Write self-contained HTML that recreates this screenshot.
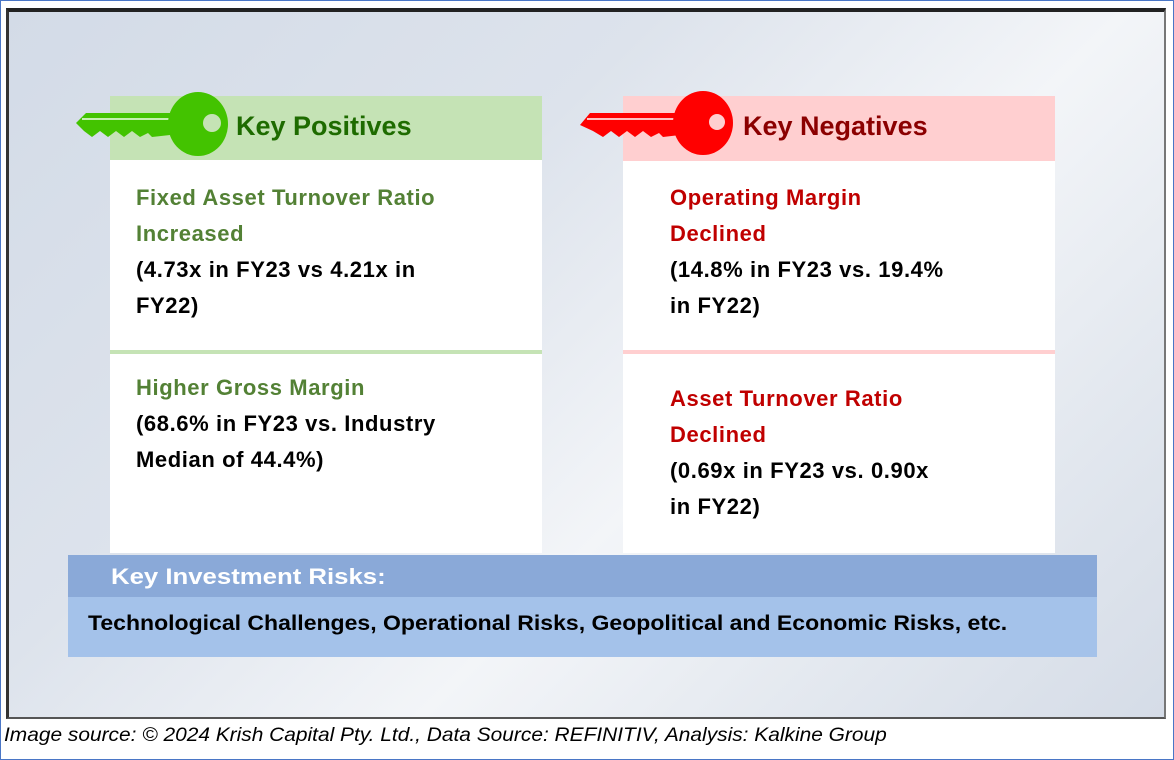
<!DOCTYPE html>
<html><head><meta charset="utf-8"><style>
body{margin:0;width:1174px;height:760px;background:#fff;position:relative;overflow:hidden;font-family:"Liberation Sans",sans-serif}
.abs{position:absolute}
.outer{left:0;top:0;width:1172px;height:758px;border:1px solid #4a76c6}
.frame{left:6px;top:8px;width:1155px;height:705px;border-top:4px solid #222;border-left:3px solid #333;border-right:2px solid #777;border-bottom:2px solid #555;background:linear-gradient(135deg,#d3dbe7 0%,#dde3ec 35%,#f3f5f8 60%,#e3e8ef 80%,#d5dce7 100%)}
.panel{background:#fff}
.hdr{font-weight:bold;font-size:27px}
.txt{font-weight:bold;font-size:22px;line-height:36px;letter-spacing:0.6px;white-space:nowrap}
.g{color:#538135}.r{color:#c00000}
</style></head><body>
<div class="abs outer"></div>
<div class="abs frame"></div>

<div class="abs panel" style="left:110px;top:96px;width:432px;height:457px"></div>
<div class="abs" style="left:110px;top:96px;width:432px;height:64px;background:#c5e3b5"></div>
<div class="abs" style="left:110px;top:350px;width:432px;height:4px;background:#c5e3b5"></div>
<svg class="abs" style="left:70px;top:88px" width="170" height="76">
<path d="M6,35 L16,25 L100,25 L100,47 L82,49 L78,45 L70,49 L62,43 L54,49 L46,43 L38,49 L30,43 L22,49 L14,43 Z" fill="#43c300"/>
<line x1="12" y1="31" x2="100" y2="31" stroke="#c5f0b0" stroke-width="2"/>
<ellipse cx="128" cy="36" rx="30" ry="32" fill="#43c300"/>
<circle cx="142" cy="35" r="9" fill="#c5e3b5"/>
</svg>
<div class="abs hdr" style="left:236px;top:111px;color:#1e6b00">Key Positives</div>
<div class="abs txt" style="left:136px;top:180px;width:400px"><span class="g">Fixed Asset Turnover Ratio<br>Increased</span><br>(4.73x in FY23 vs 4.21x in<br>FY22)</div>
<div class="abs txt" style="left:136px;top:370px;width:400px"><span class="g">Higher Gross Margin</span><br>(68.6% in FY23 vs. Industry<br>Median of 44.4%)</div>

<div class="abs panel" style="left:623px;top:96px;width:432px;height:457px"></div>
<div class="abs" style="left:623px;top:96px;width:432px;height:65px;background:#ffcfd0"></div>
<div class="abs" style="left:623px;top:350px;width:432px;height:4px;background:#ffcfd0"></div>
<svg class="abs" style="left:575px;top:88px" width="170" height="76">
<path d="M5,37 L15,25 L105,25 L105,47 L88,49 L84,45 L76,49 L68,43 L60,49 L52,43 L44,49 L36,43 L28,49 L18,43 Z" fill="#f00"/>
<line x1="12" y1="31" x2="105" y2="31" stroke="#ffc0c0" stroke-width="2"/>
<ellipse cx="128" cy="35" rx="30" ry="32" fill="#f00"/>
<circle cx="142" cy="34" r="8" fill="#ffcfd0"/>
</svg>
<div class="abs hdr" style="left:743px;top:111px;color:#8b0000">Key Negatives</div>
<div class="abs txt" style="left:670px;top:180px;width:380px"><span class="r">Operating Margin<br>Declined</span><br>(14.8% in FY23 vs. 19.4%<br>in FY22)</div>
<div class="abs txt" style="left:670px;top:381px;width:380px"><span class="r">Asset Turnover Ratio<br>Declined</span><br>(0.69x in FY23 vs. 0.90x<br>in FY22)</div>

<div class="abs" style="left:68px;top:555px;width:1029px;height:42px;background:#8aa9d8"></div>
<div class="abs" style="left:68px;top:597px;width:1029px;height:60px;background:#a4c2ea"></div>
<div class="abs" style="left:111px;top:564px;color:#fff;font-weight:bold;font-size:22px;transform:scaleX(1.17);transform-origin:left;white-space:nowrap">Key Investment Risks:</div>
<div class="abs" style="left:88px;top:612px;color:#000;font-weight:bold;font-size:21px;transform:scaleX(1.096);transform-origin:left;white-space:nowrap">Technological Challenges, Operational Risks, Geopolitical and Economic Risks, etc.</div>

<div class="abs" style="left:4px;top:725px;font-style:italic;font-size:19px;color:#000;transform:scaleX(1.1);transform-origin:left;white-space:nowrap">Image source: © 2024 Krish Capital Pty. Ltd., Data Source: REFINITIV, Analysis: Kalkine Group</div>
</body></html>
